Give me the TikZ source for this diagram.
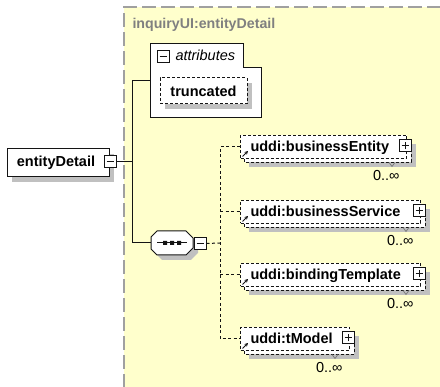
\documentclass[tikz,border=0pt]{standalone}
\usepackage{fontspec}
\setmainfont{Liberation Sans}
\usetikzlibrary{shadows,arrows.meta}
\definecolor{bgyellow}{RGB}{255,255,204}
\definecolor{shade}{RGB}{192,192,192}
\definecolor{frame}{RGB}{160,160,160}
\definecolor{titlegray}{RGB}{128,128,128}
\definecolor{ink}{RGB}{20,20,20}
\newcommand\elembox[4]{%
  \draw[dbox, shd] (244,#2-7.5) rectangle (#3+5,#2+15.5);
  \node[dbox, minimum width=#3-240, minimum height=23, anchor=west] (#1) at (240,#2) {};
  \node[lbl, anchor=base west] (#1-t) at (250,#2+5) {#4};
  \node[pm] (#1-p) at (#3-1,#2-1) {};
  \draw[ink] ([xshift=-3.5pt]#1-p.center) -- ([xshift=3.5pt]#1-p.center)
             ([yshift=-3.5pt]#1-p.center) -- ([yshift=3.5pt]#1-p.center);
  \draw[ink, line width=1pt, -{Stealth[length=3.5pt,width=3.5pt]}] (242.5,#2+9.5) -- (248,#2+4);
  \draw[gray, line width=0.8pt] (#3-17,#2+15.5) -- (#3-14,#2+19.5) -- (#3-11,#2+15.5);
  \node[card, anchor=base east] (#1-n) at (#3-6,#2+34) {0..∞};
}
\begin{document}
\begin{tikzpicture}[x=1pt,y=-1pt,line width=1pt,
  lbl/.style={font=\fontsize{14.5}{16}\selectfont\bfseries, inner sep=0, text=black},
  card/.style={font=\fontsize{14.5}{16}\selectfont, inner sep=0, text=black},
  shd/.style={drop shadow={shadow xshift=5pt, shadow yshift=-5pt, fill=shade, opacity=1}},
  solidbox/.style={draw=ink, fill=white, inner sep=0},
  dbox/.style={draw=ink, fill=white, dash pattern=on 3pt off 2pt, inner sep=0},
  pm/.style={draw=ink, fill=white, minimum size=12pt, inner sep=0},
  conn/.style={draw=ink},
  dconn/.style={draw=ink, dash pattern=on 3pt off 2.5pt}]
\useasboundingbox (0,0) rectangle (440,387);
% background
\fill[bgyellow] (124,7) rectangle (441,388);
\draw[frame, line width=1.5pt, dash pattern=on 14pt off 5pt] (124,388) -- (124,7) -- (441,7);
\node[anchor=base west, font=\fontsize{14.2}{16}\selectfont\bfseries, text=titlegray, inner sep=0] (title) at (132,29) {inquiryUI:entityDetail};
% attributes group
\draw[ink, fill=white] (150,44) -- (243,44) -- (243,68) -- (261,68) -- (261,118) -- (150,118) -- cycle;
\node[pm] (am) at (163,57) {};
\draw[ink] ([xshift=-3.5pt]am.center) -- ([xshift=3.5pt]am.center);
\node[anchor=base west, font=\fontsize{14.5}{16}\selectfont\itshape, inner sep=0] (attrtext) at (175,61) {attributes};
\node[dbox, shd, minimum width=87pt, minimum height=26pt, font=\fontsize{14.5}{16}\selectfont\bfseries] (trunc) at (203.5,91) {truncated};
\coordinate (attrL) at (150,81);
% root element
\node[solidbox, shd, minimum width=102pt, minimum height=28pt, font=\fontsize{14.5}{16}\selectfont\bfseries] (ed) at (58,163) {\hspace*{-4pt}entityDetail};
\node[pm] (edm) at (110,162) {};
\draw[ink] ([xshift=-3.5pt]edm.center) -- ([xshift=3.5pt]edm.center);
% sequence compositor
\draw[ink, fill=white, shd] (157,231) -- (186,231) -- (193,238) -- (193,248) -- (186,255) -- (157,255) -- (151,249) -- (151,237) -- cycle;
\node[inner sep=0, minimum width=42pt, minimum height=24pt] (seq) at (172,243) {};
\draw[ink] (157,243) -- (187,243);
\fill[ink] (163,241) rectangle (167,245) (170,241) rectangle (174,245) (177,241) rectangle (181,245);
\node[pm] (sm) at (200,243.5) {};
\draw[ink] ([xshift=-3.5pt]sm.center) -- ([xshift=3.5pt]sm.center);
% solid connectors
\coordinate (jm) at (132,162);
\coordinate (jt) at (132,81);
\coordinate (jb) at (132,243);
\draw[conn] (edm.east) -- (jm);
\draw[conn] (attrL) -- (jt) -- (jb) -- (seq.west);
% children
\elembox{be}{147}{406}{uddi:businessEntity}
\elembox{bs}{212}{420}{uddi:businessService}
\elembox{bt}{275}{420}{uddi:bindingTemplate}
\elembox{tm}{339}{349}{uddi:tModel}
% dashed connectors
\coordinate (sv) at (220,243);
\coordinate (vt) at (220,147);
\coordinate (vb) at (220,339);
\draw[dconn] (sm.east) -- (sv);
\draw[dconn] (be.west) -- (vt) -- (vb) -- (tm.west);
\draw[dconn] (220,212) -- (bs.west);
\draw[dconn] (220,275) -- (bt.west);
\end{tikzpicture}
\end{document}
